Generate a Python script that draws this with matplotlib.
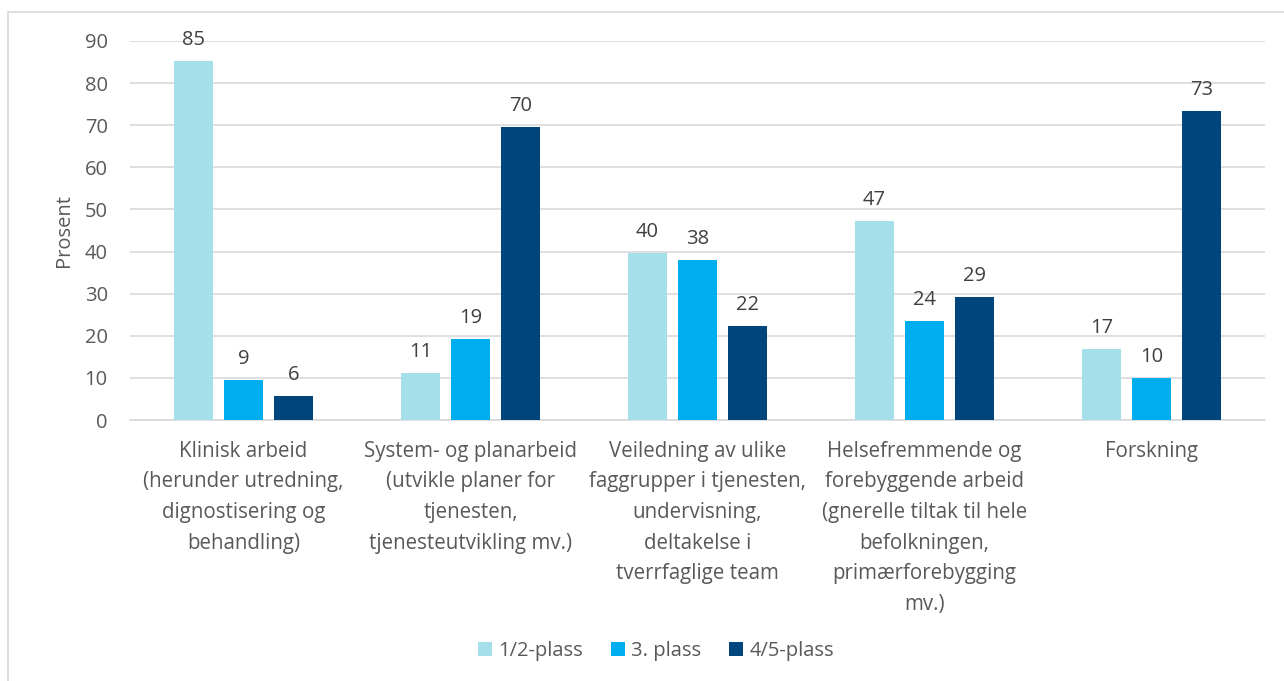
import numpy as np
import matplotlib.pyplot as plt
from matplotlib.patches import Rectangle

# Kategorier og verdier (prosent)
kategorier = [
    "Klinisk arbeid\n(herunder utredning,\ndignostisering og\nbehandling)",
    "System- og planarbeid\n(utvikle planer for\ntjenesten,\ntjenesteutvikling mv.)",
    "Veiledning av ulike\nfaggrupper i tjenesten,\nundervisning,\ndeltakelse i\ntverrfaglige team",
    "Helsefremmende og\nforebyggende arbeid\n(gnerelle tiltak til hele\nbefolkningen,\nprimærforebygging\nmv.)",
    "Forskning",
]
serier = ["1/2-plass", "3. plass", "4/5-plass"]
plass_12 = [85.2, 11.2, 39.7, 47.2, 16.9]
plass_3 = [9.4, 19.3, 37.9, 23.6, 10.0]
plass_45 = [5.6, 69.6, 22.3, 29.2, 73.3]
farger = ["#A5DFEA", "#00AEEF", "#00457C"]

plt.rcParams['font.family'] = ['Open Sans', 'DejaVu Sans']
tekstfarge = "#595959"

fig = plt.figure(figsize=(12.84, 6.81), dpi=100)
ax = fig.add_axes([130 / 1284, 1 - 420 / 681, 1135 / 1284, 379 / 681])

x = np.arange(len(kategorier))
bredde = 0.174
steg = 0.22
for i, (verdier, navn) in enumerate(zip([plass_12, plass_3, plass_45], serier)):
    pos = x + (i - 1) * steg
    ax.bar(pos, verdier, bredde, color=farger[i], label=navn, zorder=3)
    for px, v in zip(pos, verdier):
        ax.annotate(f"{round(v):d}", (px, v), xytext=(0, 8), textcoords="offset points",
                    ha="center", va="bottom", fontsize=14.5, color="#404040")

ax.set_xlim(-0.5, len(kategorier) - 0.5)
ax.set_ylim(0, 90)
ax.set_yticks(range(0, 91, 10))
ax.yaxis.grid(True, color="#D9D9D9", linewidth=1.2, zorder=0)
ax.set_axisbelow(True)
for side in ["top", "right", "left"]:
    ax.spines[side].set_visible(False)
ax.spines["bottom"].set_color("#D9D9D9")
ax.spines["bottom"].set_linewidth(1.2)
ax.tick_params(axis="both", length=0, labelsize=14.5, colors=tekstfarge)
ax.tick_params(axis="y", pad=16)
ax.tick_params(axis="x", pad=15)
ax.set_xticks(x)
ax.set_xticklabels(kategorier, linespacing=1.6, fontsize=14.8)
ax.set_ylabel("Prosent", fontsize=14.5, color=tekstfarge, labelpad=8)

ax.legend(loc="center", bbox_to_anchor=(656 / 1284, 1 - 651 / 681), bbox_transform=fig.transFigure,
          ncol=3, frameon=False, fontsize=14.5, handlelength=0.7, handleheight=0.7,
          handletextpad=0.3, columnspacing=1.4, labelcolor=tekstfarge)

# ytre ramme rundt diagrammet
fig.patches.append(Rectangle((8 / 1284, -0.1), 1.2, 1 - 12 / 681 + 0.1, transform=fig.transFigure,
                             fill=False, edgecolor="#D9D9D9", linewidth=1.2))

fig.savefig("out.png", dpi=100)
